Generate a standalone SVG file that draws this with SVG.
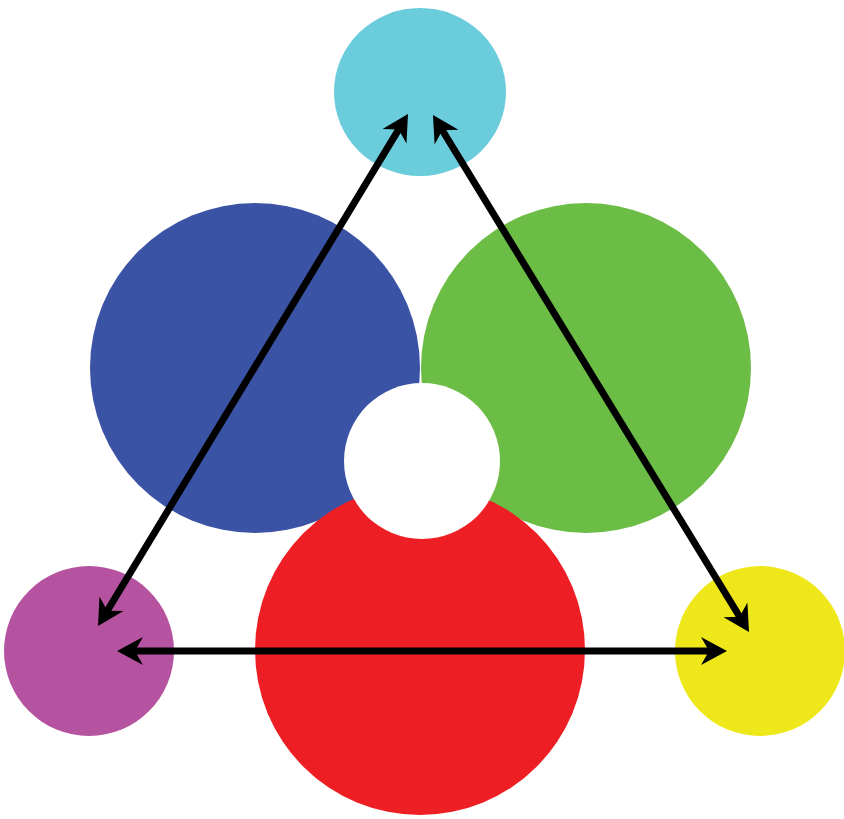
<svg xmlns="http://www.w3.org/2000/svg" width="844" height="819" viewBox="0 0 844 819">
  <defs>
    <marker id="head" markerUnits="userSpaceOnUse" markerWidth="34" markerHeight="34" viewBox="0 -17 34 34" refX="16" refY="0" orient="auto-start-reverse">
      <path d="M26,0 L0,-14 L8,0 L0,14 Z" fill="#000"/>
    </marker>
  </defs>
  <style>
    .link { stroke: #000; stroke-width: 7; fill: none; marker-start: url(#head); marker-end: url(#head); }
  </style>
  <rect width="844" height="819" fill="#fff"/>
  <g id="cyan"><ellipse cx="420" cy="92" rx="86" ry="84" fill="#6bccdb"/></g>
  <g id="blue"><circle cx="255" cy="368" r="165" fill="#3a53a4"/></g>
  <g id="green"><circle cx="586" cy="368" r="165" fill="#6bbd45"/></g>
  <g id="red"><circle cx="420" cy="650" r="165" fill="#ee1f24"/></g>
  <g id="white"><circle cx="422" cy="461" r="78" fill="#fff"/></g>
  <g id="purple"><circle cx="89" cy="651" r="85" fill="#b553a0"/></g>
  <g id="yellow"><circle cx="760" cy="651" r="85" fill="#eee81a"/></g>
  <g id="connectors">
    <line class="link" x1="103.2" y1="617.5" x2="402.8" y2="122.6"/>
    <line class="link" x1="438.2" y1="123.5" x2="743.8" y2="623.5"/>
    <line class="link" x1="127" y1="651" x2="717" y2="651"/>
  </g>
</svg>
